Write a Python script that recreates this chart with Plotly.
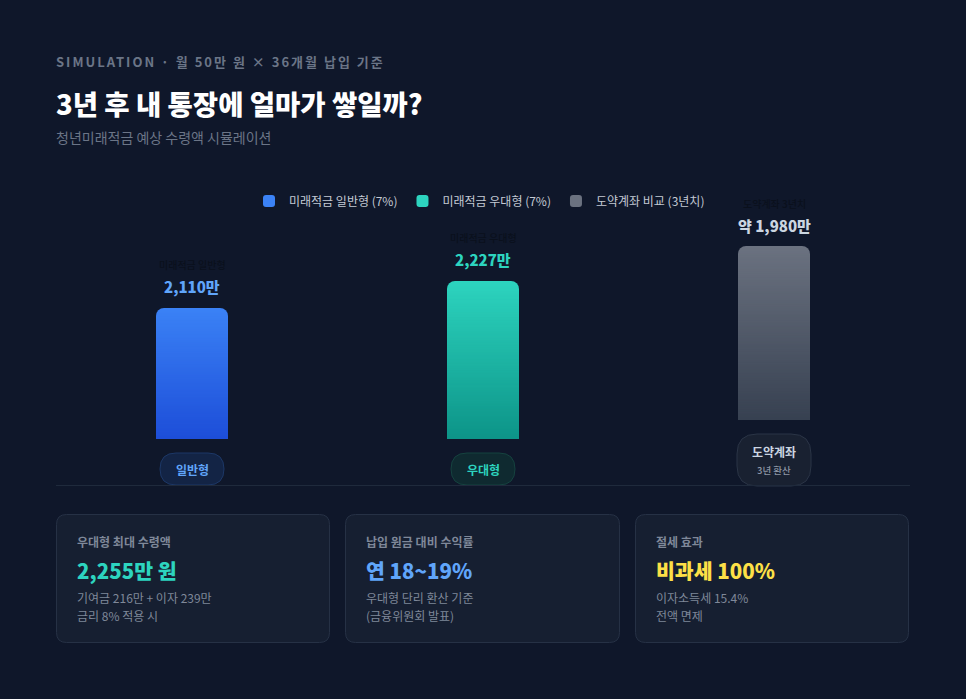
import base64
import struct
import zlib

import plotly.graph_objects as go

# ---------------- data ----------------
categories = ["일반형", "우대형", "도약계좌"]
series_names = ["미래적금 일반형 (7%)", "미래적금 우대형 (7%)", "도약계좌 비교 (3년치)"]
values = [2110, 2227, 1980]
value_labels = ["2,110만", "2,227만", "약 1,980만"]
bar_captions = ["미래적금 일반형", "미래적금 우대형", "도약계좌 3년치"]
pill_sub = ["", "", "3년 환산"]

card_titles = ["우대형 최대 수령액", "납입 원금 대비 수익률", "절세 효과"]
card_values = ["2,255만 원", "연 18~19%", "비과세 100%"]
card_lines = [["기여금 216만 + 이자 239만", "금리 8% 적용 시"],
              ["우대형 단리 환산 기준", "(금융위원회 발표)"],
              ["이자소득세 15.4%", "전액 면제"]]

# ---------------- style ----------------
W, H = 966, 699
BG = "#0f172a"
FONT = "Noto Sans CJK KR"
bar_top = ["#3b82f6", "#2dd4bf", "#6b7280"]
bar_bottom = ["#1d4ed8", "#0d9488", "#374151"]
value_colors = ["#60a5fa", "#2dd4bf", "#cbd5e1"]
pill_fill = ["#132445", "#0f2a30", "#192131"]
pill_line = ["#1c3766", "#15423f", "#2a3446"]
pill_text = ["#60a5fa", "#2dd4bf", "#cbd5e1"]
card_value_colors = ["#2dd4bf", "#60a5fa", "#fde047"]
BAR_W = 0.2474
Y1_RANGE = [1542, 2664]
Y2_RANGE = [1226, 2266]


def X(px):
    return px / W


def Y(py):
    return 1 - py / H


def rrect(x0, y0, x1, y1, r):
    return (f"M {X(x0+r)},{Y(y0)} L {X(x1-r)},{Y(y0)} Q {X(x1)},{Y(y0)} {X(x1)},{Y(y0+r)} "
            f"L {X(x1)},{Y(y1-r)} Q {X(x1)},{Y(y1)} {X(x1-r)},{Y(y1)} "
            f"L {X(x0+r)},{Y(y1)} Q {X(x0)},{Y(y1)} {X(x0)},{Y(y1-r)} "
            f"L {X(x0)},{Y(y0+r)} Q {X(x0)},{Y(y0)} {X(x0+r)},{Y(y0)} Z")


def gradient_png(hexcol, h=96):
    """Vertical overlay: transparent at top -> opaque colour at bottom."""
    r, g, b = (int(hexcol[k:k + 2], 16) for k in (1, 3, 5))
    raw = b"".join(b"\x00" + bytes([r, g, b, round(255 * j / (h - 1))]) * 2 for j in range(h))

    def chunk(tag, data):
        return (struct.pack(">I", len(data)) + tag + data +
                struct.pack(">I", zlib.crc32(tag + data) & 0xFFFFFFFF))

    png = (b"\x89PNG\r\n\x1a\n" +
           chunk(b"IHDR", struct.pack(">IIBBBBB", 2, h, 8, 6, 0, 0, 0)) +
           chunk(b"IDAT", zlib.compress(raw)) + chunk(b"IEND", b""))
    return "data:image/png;base64," + base64.b64encode(png).decode()


fig = go.Figure()

for i in range(3):
    fig.add_trace(go.Bar(
        x=[i], y=[values[i]], name=series_names[i],
        marker=dict(color=bar_top[i], line=dict(width=0)),
        width=BAR_W,
        yaxis="y2" if i == 2 else "y",
        hoverinfo="skip",
    ))

shapes = []
annotations = []
images = []

# gradient overlays on the bars (tied to bar data)
for i in range(3):
    base = Y2_RANGE[0] if i == 2 else Y1_RANGE[0]
    images.append(dict(source=gradient_png(bar_bottom[i]), xref="x", yref="y2" if i == 2 else "y",
                       x=i - BAR_W / 2, y=values[i], sizex=BAR_W, sizey=values[i] - base,
                       xanchor="left", yanchor="top", sizing="stretch", layer="above"))

# header texts
annotations.append(dict(xref="paper", yref="paper", x=X(54), y=Y(62), xanchor="left", yanchor="middle",
                        text='<span style="letter-spacing:2px">SIMULATION · 월 50만 원 × 36개월 납입 기준</span>',
                        showarrow=False,
                        font=dict(family=FONT, size=13, color="#6b7587", weight=700)))
annotations.append(dict(xref="paper", yref="paper", x=X(54), y=Y(103), xanchor="left", yanchor="middle",
                        text="3년 후 내 통장에 얼마가 쌓일까?", showarrow=False,
                        font=dict(family=FONT, size=27.5, color="#ffffff", weight=900)))
annotations.append(dict(xref="paper", yref="paper", x=X(54), y=Y(137), xanchor="left", yanchor="middle",
                        text="청년미래적금 예상 수령액 시뮬레이션", showarrow=False,
                        font=dict(family=FONT, size=14, color="#6b7587")))

# bar labels tied to data
for i in range(3):
    yref = "y2" if i == 2 else "y"
    annotations.append(dict(xref="x", yref=yref, x=i, y=values[i], xanchor="center", yanchor="middle",
                            yshift=21, text=value_labels[i], showarrow=False,
                            font=dict(family=FONT, size=15, color=value_colors[i], weight=800)))
    annotations.append(dict(xref="x", yref=yref, x=i, y=values[i], xanchor="center", yanchor="middle",
                            yshift=43, text=bar_captions[i], showarrow=False,
                            font=dict(family=FONT, size=10, color="#0a101c", weight=500)))

# pills
centers = [192, 483, 774]
for i in range(3):
    c = centers[i]
    if i < 2:
        shapes.append(dict(type="path", xref="paper", yref="paper",
                           path=rrect(c - 32, 453, c + 32, 485, 16),
                           fillcolor=pill_fill[i], line=dict(color=pill_line[i], width=1)))
        annotations.append(dict(xref="x", yref="paper", x=i, y=Y(469), xanchor="center", yanchor="middle",
                                text=categories[i], showarrow=False,
                                font=dict(family=FONT, size=12, color=pill_text[i], weight=700)))
    else:
        shapes.append(dict(type="path", xref="paper", yref="paper",
                           path=rrect(c - 37, 434, c + 37, 486, 20),
                           fillcolor=pill_fill[i], line=dict(color=pill_line[i], width=1)))
        annotations.append(dict(xref="x", yref="paper", x=i, y=Y(451), xanchor="center", yanchor="middle",
                                text=categories[i], showarrow=False,
                                font=dict(family=FONT, size=12, color=pill_text[i], weight=700)))
        annotations.append(dict(xref="x", yref="paper", x=i, y=Y(470), xanchor="center", yanchor="middle",
                                text=pill_sub[i], showarrow=False,
                                font=dict(family=FONT, size=9.5, color="#8d96a5", weight=500)))

# separator
shapes.append(dict(type="line", xref="paper", yref="paper", x0=X(56), x1=X(910), y0=Y(485.5), y1=Y(485.5),
                   line=dict(color="#1f2a3c", width=1)))

# cards
card_x = [(56, 330), (345, 620), (635, 909)]
for i, (x0, x1) in enumerate(card_x):
    shapes.append(dict(type="path", xref="paper", yref="paper", path=rrect(x0 + 0.5, 514.5, x1 - 0.5, 642.5, 10),
                       fillcolor="#161f31", line=dict(color="#263145", width=1), layer="below"))
    tx = x0 + 19
    annotations.append(dict(xref="paper", yref="paper", x=X(tx), y=Y(541), xanchor="left", yanchor="middle",
                            text=card_titles[i], showarrow=False,
                            font=dict(family=FONT, size=12, color="#7f8899", weight=700)))
    annotations.append(dict(xref="paper", yref="paper", x=X(tx), y=Y(570), xanchor="left", yanchor="middle",
                            text=card_values[i], showarrow=False,
                            font=dict(family=FONT, size=20.5, color=card_value_colors[i], weight=800)))
    for j, line in enumerate(card_lines[i]):
        annotations.append(dict(xref="paper", yref="paper", x=X(tx), y=Y(597 + 18 * j), xanchor="left",
                                yanchor="middle", text=line, showarrow=False,
                                font=dict(family=FONT, size=12, color="#7f8899")))

fig.update_layout(
    width=W, height=H,
    margin=dict(l=0, r=0, t=0, b=0),
    paper_bgcolor=BG, plot_bgcolor="rgba(0,0,0,0)",
    barmode="overlay",
    barcornerradius=8,
    showlegend=True,
    legend=dict(orientation="h", x=X(249), xanchor="left", y=Y(201), yanchor="middle",
                bgcolor="rgba(0,0,0,0)", font=dict(family=FONT, size=12, color="#c4cad4"),
                itemclick=False, itemdoubleclick=False),
    xaxis=dict(domain=[X(46.5), X(919.5)], range=[-0.5, 2.5], visible=False, fixedrange=True),
    yaxis=dict(domain=[Y(439), Y(180)], range=Y1_RANGE, visible=False, fixedrange=True),
    yaxis2=dict(domain=[Y(420), Y(180)], range=Y2_RANGE, visible=False,
                anchor="x", fixedrange=True),
    shapes=shapes,
    annotations=annotations,
    images=images,
    font=dict(family=FONT),
)

fig.write_html("out.html", config={"displayModeBar": False})
